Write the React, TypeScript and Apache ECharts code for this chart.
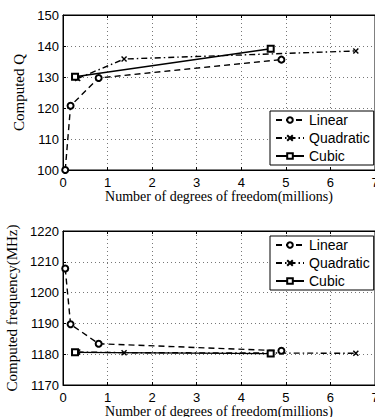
import React, { useEffect, useRef } from "react";
import * as echarts from "echarts";

// x positions (millions of degrees of freedom)
const linearX = [0.05, 0.17, 0.8, 4.9];
const quadX = [0.33, 1.37, 6.57];
const cubicX = [0.27, 4.66];

// Computed Q
const qLinear = [100, 120.7, 129.7, 135.6];
const qQuad = [129.5, 135.8, 138.4];
const qCubic = [130.1, 139.1];

// Computed frequency (MHz)
const fLinear = [1207.8, 1189.7, 1183.4, 1181.1];
const fQuad = [1180.7, 1180.5, 1180.3];
const fCubic = [1180.6, 1180.2];

const seriesNames = ["Linear", "Quadratic", "Cubic"];
const xTitle = "Number of degrees of freedom(millions)";
const yTitleTop = "Computed Q";
const yTitleBottom = "Computed frequency(MHz)";

const SANS = "'Liberation Sans', Arial, sans-serif";
const SERIF = "'Liberation Serif', 'Times New Roman', serif";

const pairs = (xs: number[], ys: number[]) => xs.map((x, i) => [x, ys[i]]);

const X_SYMBOL = "path://M0,0L10,10M10,0L0,10";

export default function App() {
  const ref = useRef<HTMLDivElement>(null);
  useEffect(() => {
    if (!ref.current) return;
    const chart = echarts.init(ref.current, undefined, { renderer: "svg" });

    const mkSeries = (gi: number, lin: number[], quad: number[], cub: number[]) => [
      {
        name: seriesNames[0],
        type: "line",
        xAxisIndex: gi * 2,
        yAxisIndex: gi,
        data: pairs(linearX, lin),
        symbol: "emptyCircle",
        symbolSize: 6,
        lineStyle: { color: "#000", width: 1.4, type: [6, 4] },
        itemStyle: { color: "#000", borderColor: "#000", borderWidth: 1.4 },
        z: 3,
      },
      {
        name: seriesNames[1],
        type: "line",
        xAxisIndex: gi * 2,
        yAxisIndex: gi,
        data: pairs(quadX, quad),
        symbol: X_SYMBOL,
        symbolSize: 5,
        lineStyle: { color: "#000", width: 1.4, type: [6, 3, 1.5, 3] },
        itemStyle: { color: "#000", borderColor: "#000", borderWidth: 1.4 },
        z: 3,
      },
      {
        name: seriesNames[2],
        type: "line",
        xAxisIndex: gi * 2,
        yAxisIndex: gi,
        data: pairs(cubicX, cub),
        symbol: "emptyRect",
        symbolSize: 6,
        lineStyle: { color: "#000", width: 1.4, type: "solid" },
        itemStyle: { color: "#000", borderColor: "#000", borderWidth: 1.4 },
        z: 3,
      },
    ];

    const xBottom = (gi: number) => ({
      type: "value",
      gridIndex: gi,
      min: 0,
      max: 7,
      interval: 1,
      name: xTitle,
      nameLocation: "middle",
      nameGap: 18,
      nameTextStyle: { fontFamily: SERIF, fontSize: 14, color: "#000" },
      axisLine: { show: true, onZero: false, lineStyle: { color: "#000", width: 1 } },
      axisTick: { show: true, inside: true, length: 3, lineStyle: { color: "#000" } },
      axisLabel: { fontFamily: SANS, fontSize: 13, color: "#000", margin: 6 },
      splitLine: { show: true, lineStyle: { color: "#777", width: 1, type: [1, 3] } },
    });
    const xTop = (gi: number) => ({
      type: "value",
      gridIndex: gi,
      position: "top",
      min: 0,
      max: 7,
      interval: 1,
      axisLine: { show: true, onZero: false, lineStyle: { color: "#000", width: 1 } },
      axisTick: { show: true, inside: true, length: 3, lineStyle: { color: "#000" } },
      axisLabel: { show: false },
      splitLine: { show: false },
    });
    const yAx = (gi: number, min: number, max: number, name: string, gap: number) => ({
      type: "value",
      gridIndex: gi,
      min,
      max,
      interval: 10,
      name,
      nameLocation: "middle",
      nameRotate: 90,
      nameGap: gap,
      nameTextStyle: { fontFamily: SERIF, fontSize: 15, color: "#000" },
      axisLine: { show: true, onZero: false, lineStyle: { color: "#000", width: 1 } },
      axisTick: { show: true, inside: true, length: 3, lineStyle: { color: "#000" } },
      axisLabel: {
        fontFamily: SANS,
        fontSize: 13,
        color: "#000",
        margin: 4,
        formatter: (v: number) => String(v),
      },
      splitLine: { show: true, lineStyle: { color: "#777", width: 1, type: [1, 3] } },
    });
    const legend = (top: number) => ({
      data: seriesNames,
      orient: "vertical",
      left: 270,
      top,
      backgroundColor: "#fff",
      borderColor: "#000",
      borderWidth: 1,
      borderRadius: 0,
      padding: [2, 4, 2, 5],
      itemWidth: 28,
      itemHeight: 7,
      itemGap: 4,
      selectedMode: false,
      textStyle: { fontFamily: SANS, fontSize: 14, color: "#000" },
      z: 10,
    });

    const gridBase = {
      left: 63,
      right: 0,
      show: true,
      borderColor: "#000",
      borderWidth: 1,
      backgroundColor: "transparent",
      outerBoundsMode: "none",
      containLabel: false,
    };

    chart.setOption({
      animation: false,
      backgroundColor: "#fff",
      grid: [
        { ...gridBase, top: 15, height: 155 },
        { ...gridBase, top: 231, height: 154 },
      ],
      xAxis: [xBottom(0), xTop(0), xBottom(1), xTop(1)],
      yAxis: [yAx(0, 100, 150, yTitleTop, 30), yAx(1, 1170, 1220, yTitleBottom, 39)],
      legend: [legend(111), legend(236)],
      series: [...mkSeries(0, qLinear, qQuad, qCubic), ...mkSeries(1, fLinear, fQuad, fCubic)],
    });
    return () => chart.dispose();
  }, []);
  return (
    <div
      ref={ref}
      style={{ position: "absolute", left: 0, top: 0, width: 375, height: 417, background: "#fff" }}
    />
  );
}
